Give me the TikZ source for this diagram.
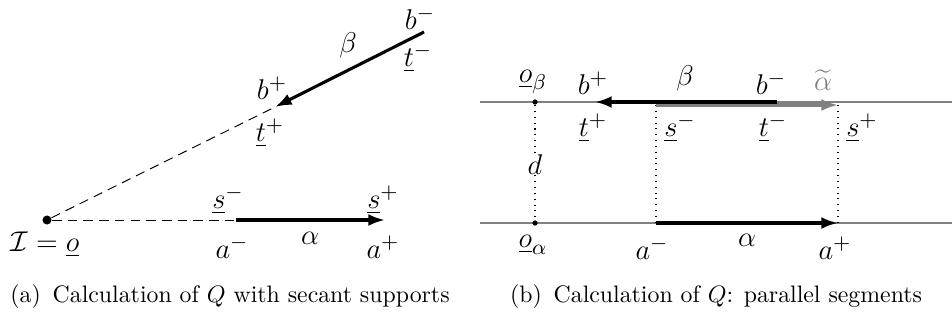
\documentclass[tikz,border=0pt]{standalone}
\usepackage{amsmath}
\usetikzlibrary{arrows.meta}

\begin{document}
\begin{tikzpicture}[
  x=0.42pt, y=-0.42pt,
  seg/.style={line width=1.3pt, -{Latex[length=7pt,width=5pt]}},
  supp/.style={draw=gray, line width=0.45pt},
  secant/.style={line width=0.4pt, dash pattern=on 4pt off 2.6pt},
  proj/.style={line width=0.45pt, dotted},
  lab/.style={font=\fontsize{12.5}{15}\selectfont, inner sep=0pt},
  subcap/.style={font=\fontsize{10}{12}\selectfont, inner sep=0pt},
  dot/.style={circle, fill, inner sep=0pt, minimum size=#1},
]
\useasboundingbox (0,0) rectangle (952,320);

% (a) secant supports
\node[dot=3.8pt] (o) at (47,220) {};
\coordinate (am) at (236,220);
\coordinate (ap) at (385,220);
\coordinate (bm) at (424,32);
\coordinate (bp) at (275,107);
\draw[secant] (o) -- (am);
\draw[secant] (o) -- (bp);
\draw[seg] (am) -- (ap);
\draw[seg] (bm) -- (bp);
\node[lab] (lbm)  at (420,18)  {$b^-$};
\node[lab] (ltm)  at (418,58)  {$\underline{t}^-$};
\node[lab] (lbeta)at (348,45)  {$\beta$};
\node[lab] (lbp)  at (272,88)  {$b^+$};
\node[lab] (ltp)  at (270,133) {$\underline{t}^+$};
\node[lab] (lsm)  at (228,200) {$\underline{s}^-$};
\node[lab] (lsp)  at (383,200) {$\underline{s}^+$};
\node[lab] (lam)  at (232,247) {$a^-$};
\node[lab] (lalpha) at (310,238) {$\alpha$};
\node[lab] (lap)  at (383,247) {$a^+$};
\node[lab] (lo)   at (45,245)  {$\mathcal{I}=\underline{o}$};
\node[subcap] (capa) at (230,297) {(a)\enspace Calculation of $Q$ with secant supports};

% (b) parallel segments
\coordinate (tl) at (480,102);
\coordinate (tr) at (952,102);
\coordinate (bl) at (480,223);
\coordinate (br) at (952,223);
\draw[supp] (tl) -- (tr);
\draw[supp] (bl) -- (br);
\node[dot=2.2pt] (ob) at (535,102) {};
\node[dot=2.2pt] (oa) at (535,223) {};
\node[lab] (ld) at (535,165) {$d$};
\draw[proj] (ob) -- (ld) -- (oa);
\coordinate (sm) at (656,105);
\coordinate (sp) at (838,105);
\coordinate (am2) at (656,223);
\coordinate (ap2) at (838,223);
\coordinate (bm2) at (777,102);
\coordinate (bp2) at (595,102);
\draw[proj] (sm) -- (am2);
\draw[proj] (sp) -- (ap2);
\draw[seg, gray] (sm) -- (sp);
\draw[seg] (bm2) -- (bp2);
\draw[seg] (am2) -- (ap2);
\node[lab] (lob)  at (533,82)  {$\underline{o}_\beta$};
\node[lab] (lbp2) at (593,83)  {$b^+$};
\node[lab] (lbeta2) at (685,78) {$\beta$};
\node[lab] (lbm2) at (771,83)  {$b^-$};
\node[lab, gray] (lat) at (823,80) {$\widetilde{\alpha}$};
\node[lab] (ltp2) at (593,128) {$\underline{t}^+$};
\node[lab] (lsm2) at (680,128) {$\underline{s}^-$};
\node[lab] (ltm2) at (773,128) {$\underline{t}^-$};
\node[lab] (lsp2) at (862,128) {$\underline{s}^+$};
\node[lab] (loa)  at (533,245) {$\underline{o}_\alpha$};
\node[lab] (lam2) at (652,248) {$a^-$};
\node[lab] (lalpha2) at (747,240) {$\alpha$};
\node[lab] (lap2) at (835,248) {$a^+$};
\node[subcap] (capb) at (716,297) {(b)\enspace Calculation of $Q$: parallel segments};
\end{tikzpicture}
\end{document}
